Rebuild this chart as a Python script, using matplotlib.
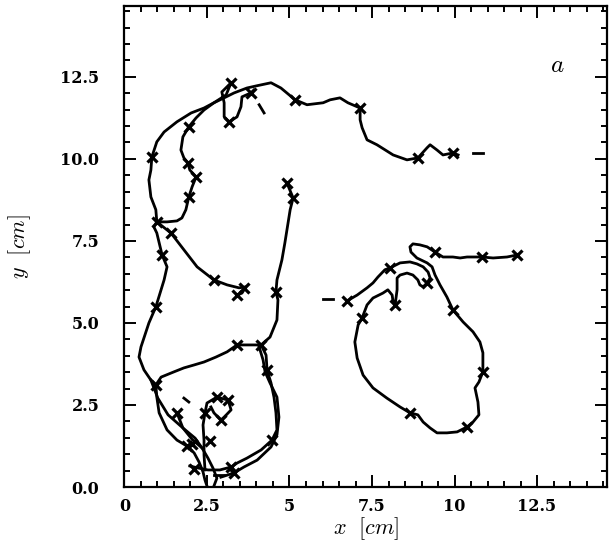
import matplotlib.pyplot as plt
from matplotlib.ticker import MultipleLocator

plt.rcParams['mathtext.fontset'] = 'cm'

# tracked particle paths, in cm
top_x = [10.11, 9.95, 9.65, 9.47, 9.26, 9.17, 8.89, 8.56, 8.14, 7.65, 7.35, 7.20, 7.14, 7.14, 6.77, 6.53,
         6.23, 6.02, 5.53, 5.17, 4.74, 4.44, 4.02, 3.71, 3.32, 3.02, 2.71, 2.41, 2.02, 1.59, 1.20, 0.98,
         0.83, 0.80, 0.74, 0.80, 0.95, 0.98, 0.89, 0.98, 1.14, 1.29, 1.20, 0.95, 0.74, 0.50, 0.44, 0.59,
         0.80, 0.95, 1.11, 1.50, 1.80, 2.11, 2.41, 2.77, 3.11, 3.41, 3.83, 4.14, 4.41, 4.62, 4.65, 4.59,
         4.62, 4.77, 4.86, 5.02, 5.11, 4.92]
top_y = [10.12, 10.18, 10.12, 10.27, 10.43, 10.34, 10.03, 9.97, 10.12, 10.43, 10.58, 10.95, 11.19, 11.55,
         11.71, 11.86, 11.80, 11.71, 11.65, 11.80, 12.16, 12.32, 12.23, 12.16, 12.01, 11.86, 11.71, 11.55,
         11.40, 11.13, 10.82, 10.52, 10.06, 9.66, 9.36, 8.84, 8.45, 8.08, 7.93, 7.74, 7.07, 6.71, 6.31,
         5.49, 5.00, 4.27, 3.96, 3.57, 3.26, 3.11, 3.35, 3.51, 3.63, 3.72, 3.81, 3.96, 4.12, 4.33, 4.33,
         4.33, 4.57, 5.09, 5.70, 5.95, 6.31, 6.92, 7.44, 8.45, 8.81, 9.27]
top_mx = [9.95, 8.89, 7.14, 5.17, 0.83, 0.98, 1.14, 0.95, 0.95, 3.41, 4.14, 4.59, 5.11, 4.92]
top_my = [10.18, 10.03, 11.55, 11.80, 10.06, 8.08, 7.07, 5.49, 3.11, 4.33, 4.33, 5.95, 8.81, 9.27]

inner_x = [3.92, 3.83, 3.56, 3.53, 3.41, 3.17, 3.02, 3.02, 2.95, 3.23, 3.08, 2.71, 2.41, 2.17, 1.95, 1.77,
           1.71, 1.80, 1.92, 1.98, 2.17, 2.05, 1.95, 1.86, 1.74, 1.59, 1.29, 0.98, 1.41, 1.80, 2.20, 2.71,
           3.11, 3.47, 3.68, 3.56, 3.41]
inner_y = [12.10, 12.01, 11.89, 11.59, 11.28, 11.13, 11.28, 11.71, 12.04, 12.32, 11.95, 11.71, 11.49,
           11.25, 10.98, 10.67, 10.27, 10.03, 9.88, 9.66, 9.45, 9.15, 8.84, 8.45, 8.20, 8.11, 8.08, 8.08,
           7.74, 7.23, 6.71, 6.31, 6.16, 6.07, 6.10, 5.91, 5.85]
inner_mx = [3.83, 3.17, 3.23, 1.95, 1.92, 2.17, 1.95, 1.41, 2.71, 3.41, 3.62]
inner_my = [12.01, 11.13, 12.32, 10.98, 9.88, 9.45, 8.84, 7.74, 6.31, 5.85, 6.05]

loop_a_x = [4.14, 4.29, 4.32, 4.44, 4.53, 4.59, 4.62, 4.47, 4.14, 3.71, 3.41, 3.23, 2.89, 2.53, 2.23, 1.98]
loop_a_y = [4.33, 4.02, 3.57, 3.17, 2.74, 2.26, 1.74, 1.43, 1.13, 0.88, 0.73, 0.61, 0.52, 0.52, 0.58, 0.64]
loop_b_x = [4.08, 4.20, 4.26, 4.41, 4.62, 4.68, 4.62, 4.44, 4.02, 3.62, 3.32, 2.92]
loop_b_y = [4.27, 3.87, 3.51, 3.17, 2.74, 2.13, 1.59, 1.22, 0.82, 0.61, 0.43, 0.30]
loop_mx = [4.32, 4.47, 3.23, 3.32]
loop_my = [3.57, 1.43, 0.61, 0.43]

bl1_x = [0.95, 0.98, 1.05, 1.29, 1.59, 1.89, 2.11, 2.26, 2.38, 2.44, 2.50]
bl1_y = [3.11, 2.74, 2.26, 1.74, 1.43, 1.25, 1.04, 0.76, 0.46, 0.21, 0.03]
bl2_x = [0.80, 1.01, 1.32, 1.77, 2.14, 2.35, 2.53, 2.68, 2.80, 2.71]
bl2_y = [3.26, 2.71, 2.20, 1.80, 1.49, 1.19, 0.88, 0.58, 0.27, 0.03]
star_x = [2.44, 2.41, 2.41, 2.38, 2.44, 2.50, 2.80, 3.14, 3.23, 3.02, 2.92, 2.71, 2.62]
star_y = [0.52, 0.98, 1.43, 1.89, 2.26, 2.56, 2.74, 2.65, 2.35, 2.13, 2.04, 2.26, 2.44]
side_x = [1.59, 1.77, 2.05, 2.35]
side_y = [2.26, 1.80, 1.45, 1.19]
bl_mx = [1.89, 2.80, 3.14, 2.92, 1.59, 2.05, 2.10, 2.60, 2.44]
bl_my = [1.25, 2.74, 2.65, 2.04, 2.26, 1.30, 0.55, 1.40, 2.26]

right_x = [11.89, 11.59, 11.17, 10.83, 10.38, 10.17, 9.95, 9.65, 9.41, 9.17, 8.95, 8.74, 8.65, 8.68, 8.86,
           9.17, 9.32, 9.41, 9.56, 9.77, 9.95, 10.26, 10.56, 10.77, 10.86, 10.86, 10.74, 10.62, 10.71,
           10.74, 10.56, 10.38, 10.08, 9.77, 9.47, 9.26, 9.05, 8.89, 8.65, 8.35, 7.95, 7.53, 7.23, 7.05,
           6.98, 7.08, 7.20, 7.35, 7.53, 7.83, 7.98, 8.11, 8.14, 8.20, 8.26, 8.26, 8.35, 8.56, 8.74, 8.89,
           8.95, 9.05, 9.17, 9.26, 9.20, 9.05, 8.86, 8.65, 8.35, 8.05, 7.89, 7.68, 7.53, 7.35, 7.05, 6.74]
right_y = [7.07, 7.01, 6.98, 7.01, 7.01, 6.98, 7.01, 7.01, 7.16, 7.32, 7.38, 7.41, 7.32, 7.16, 6.98,
           6.83, 6.71, 6.46, 6.16, 5.79, 5.40, 5.03, 4.73, 4.42, 4.09, 3.51, 3.20, 3.02, 2.59, 2.20, 1.98,
           1.83, 1.68, 1.65, 1.65, 1.80, 1.98, 2.20, 2.26, 2.44, 2.71, 3.02, 3.41, 3.93, 4.42, 4.94, 5.15,
           5.55, 5.76, 5.91, 6.01, 5.85, 5.64, 5.55, 6.01, 6.37, 6.46, 6.52, 6.46, 6.31, 6.16, 6.10, 6.22,
           6.37, 6.55, 6.71, 6.80, 6.86, 6.83, 6.68, 6.62, 6.40, 6.22, 6.07, 5.85, 5.67]
right_mx = [11.89, 10.83, 9.41, 9.95, 10.86, 10.38, 8.65, 7.20, 8.20, 9.17, 8.05, 6.74]
right_my = [7.07, 7.01, 7.16, 5.40, 3.51, 1.83, 2.26, 5.15, 5.55, 6.22, 6.68, 5.67]

# short start dashes
dash_x = [[10.55, 10.85], [6.02, 6.32], [4.08, 4.23], [1.80, 1.95], [2.71, 3.02]]
dash_y = [[10.18, 10.18], [5.73, 5.73], [11.65, 11.40], [2.71, 2.59], [0.37, 0.37]]

fig = plt.figure(figsize=(6.09, 5.43), dpi=100)
ax = fig.add_axes([0.2044, 0.1031, 0.7923, 0.8859])

lines = [(top_x, top_y), (inner_x, inner_y), (loop_a_x, loop_a_y), (loop_b_x, loop_b_y),
         (bl1_x, bl1_y), (bl2_x, bl2_y), (star_x, star_y), (side_x, side_y), (right_x, right_y)]
for xs, ys in lines:
    ax.plot(xs, ys, color='k', lw=2.0, solid_joinstyle='round')

for mx, my in [(top_mx, top_my), (inner_mx, inner_my), (loop_mx, loop_my), (bl_mx, bl_my), (right_mx, right_my)]:
    ax.plot(mx, my, 'x', color='k', ms=6.5, mew=2.3)

for dx, dy in zip(dash_x, dash_y):
    ax.plot(dx, dy, color='k', lw=2.0)

ax.set_xlim(0, 14.62)
ax.set_ylim(0, 14.66)

ax.xaxis.set_minor_locator(MultipleLocator(0.5))
ax.yaxis.set_minor_locator(MultipleLocator(0.5))
ax.set_xticks([0, 2.5, 5, 7.5, 10, 12.5])
ax.set_xticklabels(['0', '2.5', '5', '7.5', '10', '12.5'])
ax.set_yticks([0, 2.5, 5, 7.5, 10, 12.5])
ax.set_yticklabels(['0.0', '2.5', '5.0', '7.5', '10.0', '12.5'])

ax.tick_params(which='both', direction='in', top=True, right=True, width=1.4, color='k')
ax.tick_params(which='major', length=8.5)
ax.tick_params(which='minor', length=4.2)
ax.tick_params(axis='y', which='major', pad=18)
ax.tick_params(axis='x', which='major', pad=8)
for lab in ax.get_xticklabels() + ax.get_yticklabels():
    lab.set_fontfamily('DejaVu Serif')
    lab.set_fontweight('bold')
    lab.set_fontsize(11.5)

for sp in ax.spines.values():
    sp.set_linewidth(1.6)

ax.set_xlabel(r'$x\ \ [cm]$', fontsize=16, labelpad=0)
ax.set_ylabel(r'$y\ \ [cm]$', fontsize=16, labelpad=20)
ax.text(13.1, 12.87, r'$a$', fontsize=18, ha='center', va='center')

fig.savefig('out.png', dpi=100)
